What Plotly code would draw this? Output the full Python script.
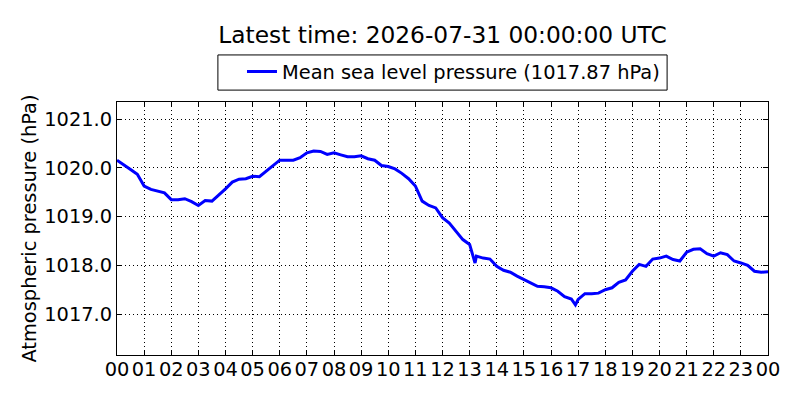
import plotly.graph_objects as go

# hours since 00 UTC at ~15 min steps
hours = [0, 0.25, 0.5, 0.75, 0.9, 1.0, 1.25, 1.5, 1.75, 2.0, 2.25, 2.5, 2.75, 3.0,
         3.25, 3.5, 3.75, 4.0, 4.25, 4.5, 4.75, 5.0, 5.25, 5.5, 5.75, 6.0, 6.25,
         6.5, 6.75, 7.0, 7.25, 7.5, 7.75, 8.0, 8.25, 8.5, 8.75, 9.0, 9.25, 9.5,
         9.75, 10.0, 10.25, 10.5, 10.75, 11.0, 11.25, 11.5, 11.75, 12.0, 12.25,
         12.5, 12.75, 13.0, 13.2, 13.25, 13.5, 13.75, 14.0, 14.25, 14.5, 14.75,
         15.0, 15.25, 15.5, 15.75, 16.0, 16.25, 16.5, 16.75, 16.9, 17.0, 17.25,
         17.5, 17.75, 18.0, 18.25, 18.5, 18.75, 19.0, 19.25, 19.5, 19.75, 20.0,
         20.25, 20.5, 20.75, 21.0, 21.25, 21.5, 21.75, 22.0, 22.25, 22.5, 22.75,
         23.0, 23.25, 23.5, 23.75, 24.0]
pressure = [1020.16, 1020.07, 1019.97, 1019.87, 1019.73, 1019.63, 1019.56, 1019.53,
            1019.49, 1019.35, 1019.35, 1019.37, 1019.31, 1019.23, 1019.33, 1019.32,
            1019.44, 1019.57, 1019.71, 1019.77, 1019.78, 1019.83, 1019.82, 1019.94,
            1020.05, 1020.16, 1020.16, 1020.16, 1020.21, 1020.31, 1020.35, 1020.34,
            1020.28, 1020.31, 1020.27, 1020.23, 1020.23, 1020.25, 1020.19, 1020.16,
            1020.05, 1020.03, 1019.98, 1019.89, 1019.78, 1019.63, 1019.32, 1019.23,
            1019.18, 1018.98, 1018.87, 1018.70, 1018.53, 1018.43, 1018.05, 1018.19,
            1018.15, 1018.13, 1017.98, 1017.90, 1017.86, 1017.78, 1017.71, 1017.64,
            1017.57, 1017.56, 1017.54, 1017.47, 1017.36, 1017.31, 1017.19, 1017.30,
            1017.42, 1017.42, 1017.43, 1017.50, 1017.54, 1017.65, 1017.70, 1017.88,
            1018.02, 1017.98, 1018.13, 1018.15, 1018.19, 1018.12, 1018.09, 1018.27,
            1018.33, 1018.34, 1018.24, 1018.19, 1018.26, 1018.22, 1018.09, 1018.05,
            1018.00, 1017.88, 1017.86, 1017.87]

hour_ticks = list(range(25))
hour_labels = ["%02d" % (h % 24) for h in hour_ticks]
p_ticks = [1017.0, 1018.0, 1019.0, 1020.0, 1021.0]

font = "DejaVu Sans, sans-serif"
fs = 19.4

fig = go.Figure()
fig.add_trace(go.Scatter(x=hours, y=pressure, mode="lines",
                         line=dict(color="#0000ff", width=3),
                         name="Mean sea level pressure (%.2f hPa)" % pressure[-1]))

axis_style = dict(showline=True, linecolor="black", linewidth=1, mirror="ticks",
                  ticks="inside", ticklen=5, tickcolor="black",
                  showgrid=True, gridcolor="black", gridwidth=1, griddash="1px,3px",
                  zeroline=False, tickfont=dict(size=fs, color="black"))

# legend frame (matplotlib style box around the legend entry)
fig.add_shape(type="rect", xref="paper", yref="paper",
              x0=0.155, x1=0.845, y0=1.047, y1=1.186,
              line=dict(color="black", width=1), fillcolor="white", layer="below")

fig.update_layout(
    width=800, height=400,
    margin=dict(l=109, r=40, t=94, b=53),
    paper_bgcolor="white", plot_bgcolor="white",
    font=dict(family=font, color="black"),
    title=dict(text="Latest time: 2026-07-31 00:00:00 UTC", x=0.5, xref="paper",
               xanchor="center", y=0.9325, yanchor="middle",
               font=dict(size=23.3, color="black")),
    showlegend=True,
    legend=dict(x=0.192, xanchor="left", y=1.119, yanchor="middle",
                borderwidth=0, bgcolor="rgba(0,0,0,0)",
                font=dict(size=fs, color="black")),
    xaxis=dict(range=[0, 24], tickvals=hour_ticks, ticktext=hour_labels,
               ticklabelstandoff=-3, **axis_style),
    yaxis=dict(range=[1016.16, 1021.355], tickvals=p_ticks,
               ticktext=["%.1f" % v for v in p_ticks],
               title=dict(text="Atmospheric pressure (hPa)", font=dict(size=fs), standoff=2),
               **axis_style),
)

fig.write_html("out.html")
